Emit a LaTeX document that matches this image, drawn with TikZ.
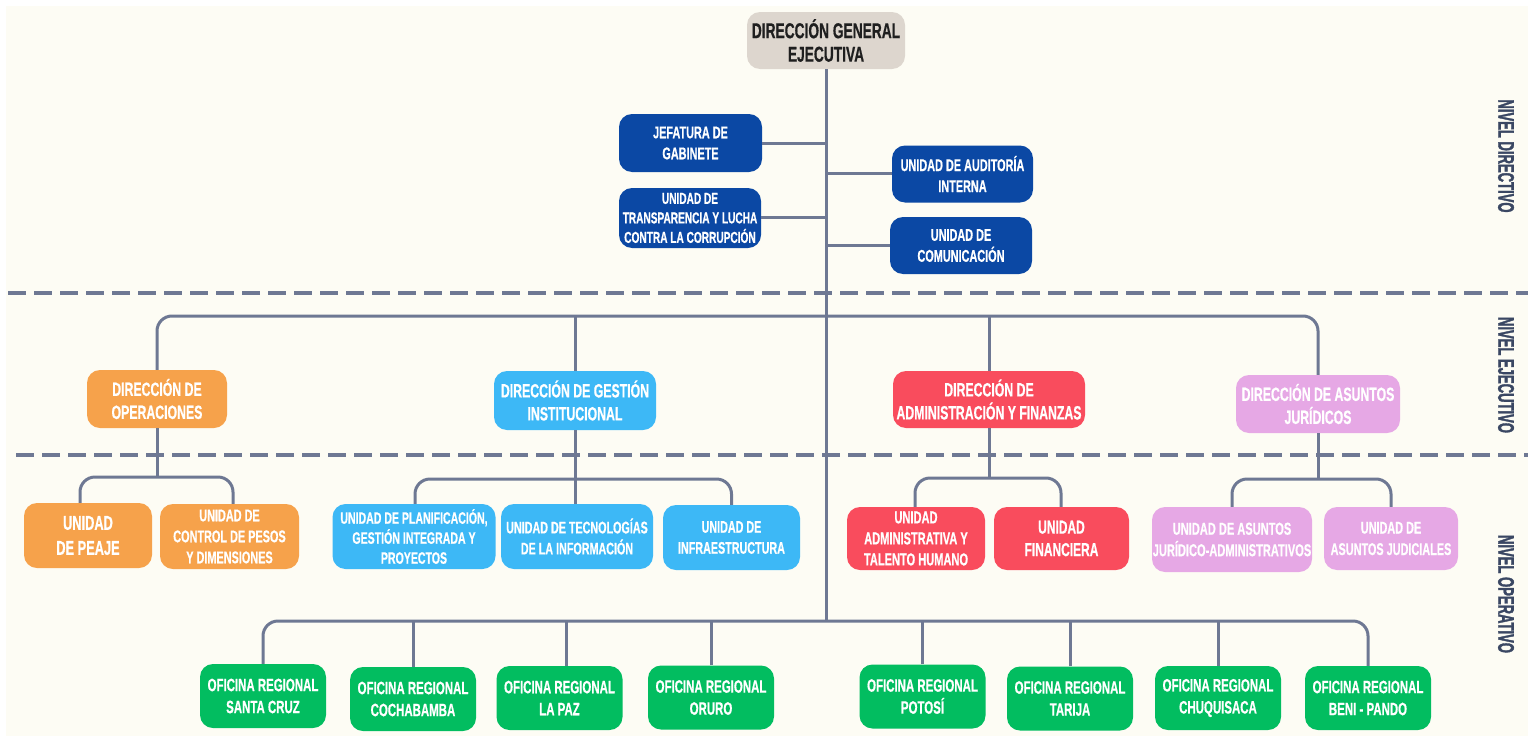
\documentclass[tikz,border=0pt]{standalone}
\usepackage{fontspec}
\setmainfont{Liberation Sans}[FakeStretch=0.64, FakeBold=0.6]
\newfontfamily\lvlfont{Liberation Sans}[FakeStretch=0.58, FakeBold=1.5]
\definecolor{bgc}{HTML}{FDFCF4}
\definecolor{lc}{HTML}{6E7893}
\definecolor{lvlc}{HTML}{3A4763}
\definecolor{dgec}{HTML}{DDD6CE}
\definecolor{dblue}{HTML}{0B48A4}
\definecolor{orangec}{HTML}{F6A24B}
\definecolor{lblue}{HTML}{3DB8F6}
\definecolor{redc}{HTML}{F94C5D}
\definecolor{pinkc}{HTML}{E6A8E5}
\definecolor{greenc}{HTML}{02BD60}
\tikzset{
  box/.style={rounded corners=13pt, align=center, text=white, inner sep=0pt},
  sz/.style 2 args={minimum width=#1, minimum height=#2},
  fs/.style 2 args={font=\fontsize{#1}{#2}\selectfont\bfseries},
  conn/.style={draw=lc, line width=3pt, rounded corners=15pt},
  dline/.style={draw=lc, line width=3.2pt, dash pattern=on 18pt off 8pt},
  lvl/.style={text=lvlc, font=\lvlfont\fontsize{22.5}{24}\selectfont\bfseries, rotate=-90, inner sep=0pt},
  dgebox/.style={box, fill=dgec, text=black!88},
  bluebox/.style={box, fill=dblue},
  orbox/.style={box, fill=orangec},
  lbbox/.style={box, fill=lblue},
  rdbox/.style={box, fill=redc},
  pkbox/.style={box, fill=pinkc},
  grbox/.style={box, fill=greenc, sz={126}{64}, fs={17.9}{22}}
}
\begin{document}
\begin{tikzpicture}[x=1pt, y=-1pt]
\useasboundingbox (0,0) rectangle (1528,736);
\fill[white] (0,0) rectangle (1528,736);
\fill[bgc] (6,6) rectangle (1528,736);

% dashed level separators
\draw[dline] (8,293) -- (1528,293);
\draw[dline] (16,455) -- (1528,455);

% level labels
\node[lvl] (l1) at (1506,156) {NIVEL DIRECTIVO};
\node[lvl] (l2) at (1506,375) {NIVEL EJECUTIVO};
\node[lvl] (l3) at (1506,594) {NIVEL OPERATIVO};

% top
\node[dgebox, sz={158}{57}, fs={21.5}{23.5}] (dge) at (826,40.5) {DIRECCIÓN GENERAL\\EJECUTIVA};

% directive units
\node[bluebox, sz={143}{58}, fs={17}{21}] (jef) at (690.5,143) {JEFATURA DE\\GABINETE};
\node[bluebox, sz={142}{60}, fs={15.8}{19.5}] (tra) at (690,218) {UNIDAD DE\\TRANSPARENCIA Y LUCHA\\CONTRA LA CORRUPCIÓN};
\node[bluebox, sz={141}{57}, fs={17}{21}] (aud) at (962.5,174) {UNIDAD DE AUDITORÍA\\INTERNA};
\node[bluebox, sz={142}{57}, fs={17}{21}] (com) at (961,245.5) {UNIDAD DE\\COMUNICACIÓN};

% executive
\node[orbox, sz={140}{58}, fs={19.2}{23}] (ops) at (157,399) {DIRECCIÓN DE\\OPERACIONES};
\node[lbbox, sz={162}{59}, fs={19.2}{23}] (ges) at (575,400.5) {DIRECCIÓN DE GESTIÓN\\INSTITUCIONAL};
\node[rdbox, sz={192}{57}, fs={19.2}{23}] (adm) at (989,399.5) {DIRECCIÓN DE\\ADMINISTRACIÓN Y FINANZAS};
\node[pkbox, sz={164}{58}, fs={19.2}{23}] (jur) at (1318,404) {DIRECCIÓN DE ASUNTOS\\JURÍDICOS};

% operative sub-units
\node[orbox, sz={128}{65}, fs={20}{25}] (pea) at (88,535.5) {UNIDAD\\DE PEAJE};
\node[orbox, sz={139}{65}, fs={17}{21}] (pes) at (229.5,536.5) {UNIDAD DE\\CONTROL DE PESOS\\Y DIMENSIONES};
\node[lbbox, sz={163}{65}, fs={16.5}{20}] (pla) at (414,536.5) {UNIDAD DE PLANIFICACIÓN,\\GESTIÓN INTEGRADA Y\\PROYECTOS};
\node[lbbox, sz={152}{65}, fs={16.8}{21}] (tec) at (577,536.5) {UNIDAD DE TECNOLOGÍAS\\DE LA INFORMACIÓN};
\node[lbbox, sz={137}{65}, fs={16.8}{21}] (inf) at (731.5,537.5) {UNIDAD DE\\INFRAESTRUCTURA};
\node[rdbox, sz={138}{63}, fs={17.3}{21}] (uad) at (916,538.5) {UNIDAD\\ADMINISTRATIVA Y\\TALENTO HUMANO};
\node[rdbox, sz={135}{63}, fs={18.7}{22.5}] (ufi) at (1061.5,538.5) {UNIDAD\\FINANCIERA};
\node[pkbox, sz={160}{65}, fs={17.3}{21.5}] (uju) at (1232,539.5) {UNIDAD DE ASUNTOS\\JURÍDICO-ADMINISTRATIVOS};
\node[pkbox, sz={134}{63}, fs={17}{21.5}] (ujd) at (1391,538.5) {UNIDAD DE\\ASUNTOS JUDICIALES};

% regional offices
\node[grbox] (scz) at (263,696) {OFICINA REGIONAL\\SANTA CRUZ};
\node[grbox] (cbb) at (413,699) {OFICINA REGIONAL\\COCHABAMBA};
\node[grbox] (lpz) at (559.5,698) {OFICINA REGIONAL\\LA PAZ};
\node[grbox] (oru) at (711,697.5) {OFICINA REGIONAL\\ORURO};
\node[grbox] (pot) at (922.5,696.5) {OFICINA REGIONAL\\POTOSÍ};
\node[grbox] (tar) at (1070,698.5) {OFICINA REGIONAL\\TARIJA};
\node[grbox] (chu) at (1218,698) {OFICINA REGIONAL\\CHUQUISACA};
\node[grbox] (ben) at (1368,698) {OFICINA REGIONAL\\BENI - PANDO};

% trunk
\coordinate (eb) at (826,316);
\coordinate (ob) at (826,621);
\draw[conn] (dge.south) -- (ob);

% directive branches
\draw[conn] (jef.east) -- (jef.east -| dge.south);
\draw[conn] (aud.west |- 0,173) -- (826,173);
\draw[conn] (tra.east |- 0,217) -- (826,217);
\draw[conn] (com.west) -- (com.west -| dge.south);

% executive bus
\draw[conn] (ops.north) |- (eb) -| (jur.north);
\draw[conn] (ges.north) -- (ges.north |- eb);
\draw[conn] (adm.north) -- (adm.north |- eb);

% operations bracket
\coordinate (opb) at (157,477);
\draw[conn] (ops.south) -- (opb);
\draw[conn] ([xshift=-8pt]pea.north) |- (opb) -| ([xshift=3.5pt]pes.north);

% gestion bracket
\coordinate (geb) at (575,479);
\draw[conn] (ges.south) -- (tec.north -| geb);
\draw[conn] ([xshift=1pt]pla.north) |- (geb) -| (inf.north);

% admin bracket
\coordinate (adb) at (989,478);
\draw[conn] (adm.south) -- (adb);
\draw[conn] ([xshift=-1pt]uad.north) |- (adb) -| ([xshift=-0.5pt]ufi.north);

% juridicos bracket
\coordinate (jub) at (1318,479);
\draw[conn] (jur.south) -- (jub);
\draw[conn] (uju.north) |- (jub) -| (ujd.north);

% regional bus
\draw[conn] (scz.north) |- (ob) -| (ben.north);
\draw[conn] (cbb.north) -- (cbb.north |- ob);
\draw[conn] ([xshift=6.5pt]lpz.north) -- ([xshift=6.5pt]lpz.north |- ob);
\draw[conn] (oru.north) -- (oru.north |- ob);
\draw[conn] (pot.north) -- (pot.north |- ob);
\draw[conn] (tar.north) -- (tar.north |- ob);
\draw[conn] (chu.north) -- (chu.north |- ob);
\end{tikzpicture}
\end{document}
